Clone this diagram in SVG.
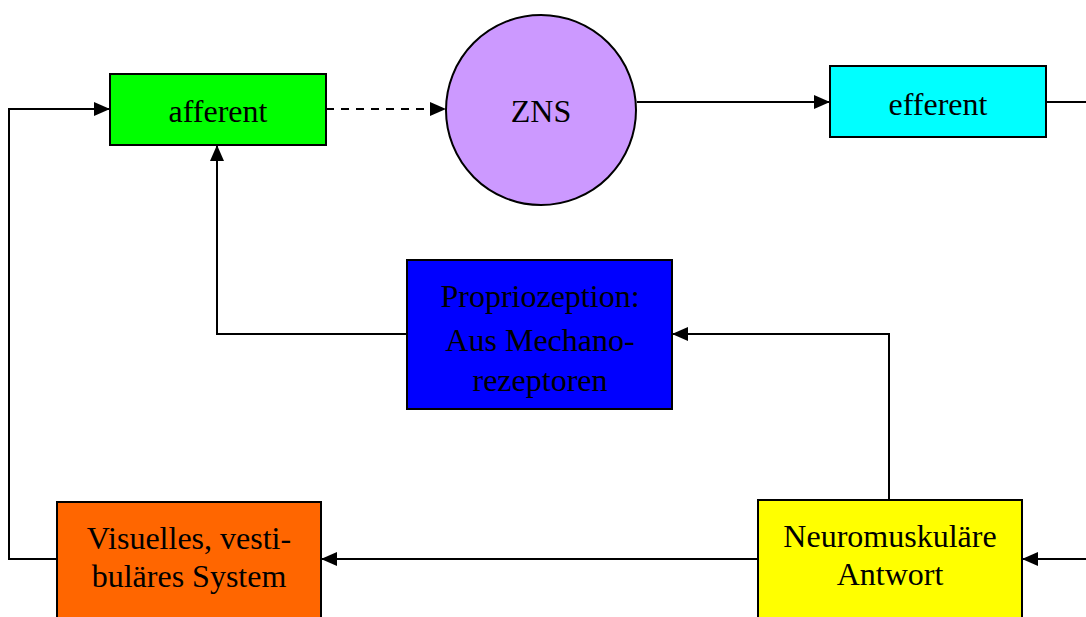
<svg xmlns="http://www.w3.org/2000/svg" width="1086" height="617" viewBox="0 0 1086 617">
<style>
.box{stroke:#000;stroke-width:2}
.t{font-family:"Liberation Serif","Times New Roman",serif;fill:#000;text-anchor:middle;font-size:32px}
.c{fill:none;stroke:#000;stroke-width:2}
</style>
<defs>
<marker id="ah" viewBox="0 0 16 14" refX="16" refY="7" markerWidth="16" markerHeight="14" markerUnits="userSpaceOnUse" orient="auto">
<path d="M0,0 L16,7 L0,14 Z" fill="#000"/>
</marker>
</defs>
<rect width="1086" height="617" fill="#fff"/>
<g id="connectors">
<path class="c" d="M57,559 H9 V109 H110" marker-end="url(#ah)"/>
<path class="c" d="M326,109 H446" stroke-dasharray="8,7" marker-end="url(#ah)"/>
<path class="c" d="M637,102 H830" marker-end="url(#ah)"/>
<path class="c" d="M1046,102 H1086"/>
<path class="c" d="M407,334 H217 V145" marker-end="url(#ah)"/>
<path class="c" d="M889,500 V334 H672" marker-end="url(#ah)"/>
<path class="c" d="M1086,559 H1022" marker-end="url(#ah)"/>
<path class="c" d="M758,559 H321" marker-end="url(#ah)"/>
</g>
<g id="afferent">
<rect class="box" x="110" y="74" width="216" height="71" fill="#00ff00"/>
<text class="t" x="218" y="122">afferent</text>
</g>
<g id="zns">
<circle class="box" cx="541" cy="110" r="95" fill="#cc99ff"/>
<text class="t" x="541" y="122">ZNS</text>
</g>
<g id="efferent">
<rect class="box" x="830" y="66" width="216" height="71" fill="#00ffff"/>
<text class="t" x="938" y="115">efferent</text>
</g>
<g id="propriozeption">
<rect class="box" x="407" y="260" width="265" height="149" fill="#0000ff"/>
<text class="t" x="540" y="307">Propriozeption:</text>
<text class="t" x="540" y="351">Aus Mechano-</text>
<text class="t" x="540" y="391">rezeptoren</text>
</g>
<g id="visuelles">
<rect class="box" x="57" y="502" width="264" height="130" fill="#ff6600"/>
<text class="t" x="189" y="549">Visuelles, vesti-</text>
<text class="t" x="189" y="587">buläres System</text>
</g>
<g id="neuromuskulaere">
<rect class="box" x="758" y="500" width="264" height="132" fill="#ffff00"/>
<text class="t" x="890" y="547">Neuromuskuläre</text>
<text class="t" x="890" y="585">Antwort</text>
</g>
</svg>
